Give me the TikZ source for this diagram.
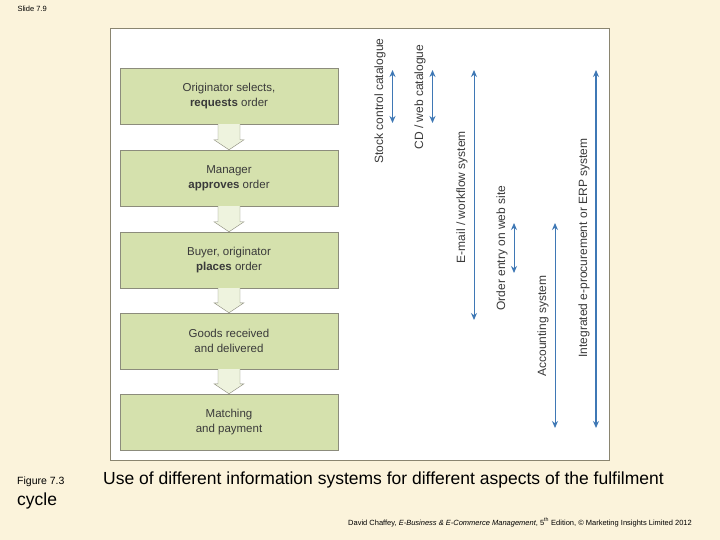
\documentclass[tikz,border=0pt]{standalone}
\usepackage{fontspec}
\setmainfont{Liberation Sans}
\usetikzlibrary{arrows.meta}
\definecolor{bgc}{HTML}{FBF3DB}
\definecolor{boxf}{HTML}{D5E1AD}
\definecolor{boxd}{HTML}{8C8C7C}
\definecolor{arrb}{HTML}{3F78B5}
\definecolor{frm}{HTML}{8A8570}
\definecolor{txt}{HTML}{3A3A3A}
\begin{document}
\begin{tikzpicture}[x=1pt,y=-1pt,
  stage/.style={draw=boxd,fill=boxf,minimum width=218pt,minimum height=56pt,align=center,font=\fontsize{11.5}{14.5}\selectfont,text=txt,inner sep=0pt},
  flow/.style={draw=boxd,fill=white!60!boxf},
  sysarr/.style={draw=arrb,line width=1.6pt,{Stealth[length=7pt,width=6pt]}-{Stealth[length=7pt,width=6pt]}},
  sysarrt/.style={draw=arrb,line width=1pt,{Stealth[length=7pt,width=6pt]}-{Stealth[length=7pt,width=6pt]}},
  lab/.style={rotate=90,font=\fontsize{12}{14}\selectfont,text=txt,inner sep=0pt}]
\fill[bgc] (0,0) rectangle (720,540);
\useasboundingbox (0,0) rectangle (720,540);
\draw[frm,fill=white] (110,28) rectangle (609,460);
\node (t) [anchor=north west,font=\fontsize{7.5}{8}\selectfont] at (14,3) {Slide 7.9};
\node (b1) [stage] at (229,96) {Originator selects,\\\textbf{requests} order};
\node (b2) [stage] at (229,178) {Manager\\\textbf{approves} order};
\node (b3) [stage] at (229,260) {Buyer, originator\\\textbf{places} order};
\node (b4) [stage] at (229,341) {Goods received\\and delivered};
\node (b5) [stage] at (229,422) {Matching\\and payment};
\foreach \u/\l in {b1/b2,b2/b3,b3/b4,b4/b5}{
  \draw[flow] ([xshift=-11pt]\u.south) -- ([xshift=-11pt,yshift=10pt]\l.north) -- ([xshift=-15pt,yshift=10pt]\l.north) -- (\l.north) -- ([xshift=15pt,yshift=10pt]\l.north) -- ([xshift=11pt,yshift=10pt]\l.north) -- ([xshift=11pt]\u.south);
}
\coordinate (a1t) at (392.5,70); \coordinate (a1b) at (392.5,123);
\coordinate (a2t) at (432.5,70); \coordinate (a2b) at (432.5,123);
\coordinate (a3t) at (474,70); \coordinate (a3b) at (474,320);
\coordinate (a4t) at (514,223); \coordinate (a4b) at (514,273);
\coordinate (a5t) at (555,223); \coordinate (a5b) at (555,428);
\coordinate (a6t) at (596,70); \coordinate (a6b) at (596,428);
\draw[sysarr] (a1t) -- (a1b);
\draw[sysarr] (a2t) -- (a2b);
\draw[sysarrt] (a3t) -- (a3b);
\draw[sysarrt] (a4t) -- (a4b);
\draw[sysarrt] (a5t) -- (a5b);
\draw[sysarr] (a6t) -- (a6b);
\node (l1) [lab] at (380,101) {Stock control catalogue};
\node (l2) [lab] at (420,97) {CD / web catalogue};
\node (l3) [lab] at (462,197) {E-mail / workflow system};
\node (l4) [lab] at (502,248) {Order entry on web site};
\node (l5) [lab] at (543,326) {Accounting system};
\node (l6) [lab] at (584,248) {Integrated e-procurement or ERP system};
\node (c1) [anchor=base west,font=\fontsize{10.5}{12}\selectfont,inner sep=0pt] at (17,484) {Figure 7.3};
\node (c2) [anchor=base west,font=\fontsize{17.5}{20}\selectfont,inner sep=0pt] at (103,484) {Use of different information systems for different aspects of the fulfilment};
\node (c3) [anchor=base west,font=\fontsize{17.5}{20}\selectfont,inner sep=0pt] at (17,505) {cycle};
\node (cr) [anchor=base east,font=\fontsize{7.5}{8}\selectfont,inner sep=0pt] at (692,525) {David Chaffey, \textit{E-Business \& E-Commerce Management}, 5\textsuperscript{th} Edition, © Marketing Insights Limited 2012};
\end{tikzpicture}
\end{document}
